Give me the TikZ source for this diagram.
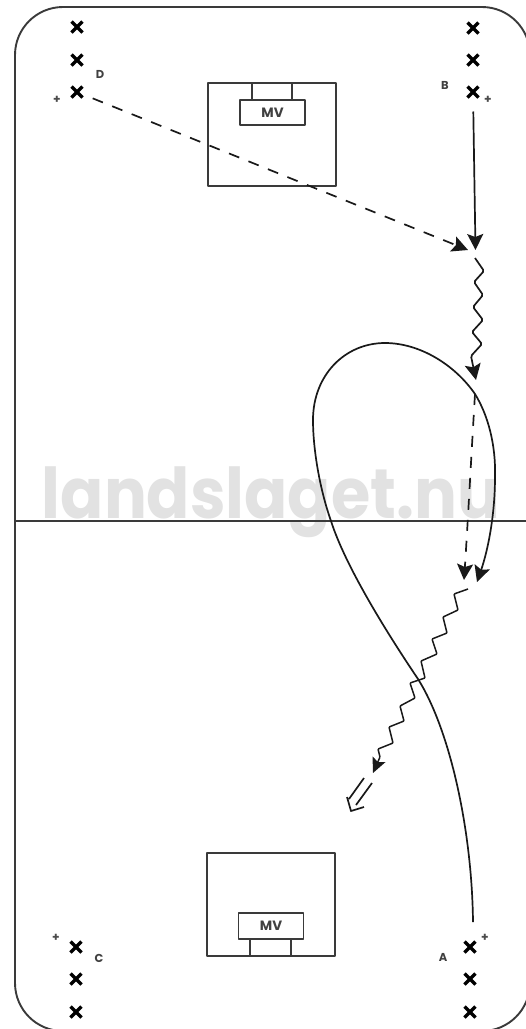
\documentclass[tikz,border=0pt]{standalone}
\usepackage{fontspec}
\setmainfont{Poppins}
\usetikzlibrary{shapes.misc,arrows.meta}
\definecolor{linegray}{HTML}{3A3A3A}
\definecolor{water}{HTML}{E2E2E2}
\tikzset{
  x=1pt,y=-1pt,
  player/.style={cross out,draw=black,line width=3.3pt,minimum size=11pt,inner sep=0pt,outer sep=0pt},
  lbl/.style={font=\bfseries\fontsize{11.5}{11.5}\selectfont,text=black!75,inner sep=0pt},
  plus/.style={font=\bfseries\fontsize{12}{12}\selectfont,text=black!70,inner sep=0pt},
  frame/.style={draw=linegray,line width=1.9pt},
  goalline/.style={draw=linegray,line width=1.7pt,line join=round},
  run/.style={draw=black!90,line width=1.7pt,line join=round},
  tip/.style={-{Stealth[length=16pt,width=16pt,inset=3pt]}},
  tipsmall/.style={-{Stealth[length=15pt,width=14pt,inset=3pt]}},
  dashrun/.style={dash pattern=on 11pt off 10pt},
}
\begin{document}
\begin{tikzpicture}
\useasboundingbox (0,0) rectangle (526,1029);
\clip (0,0) rectangle (526,1029);
% watermark
\node[font=\bfseries\fontsize{70}{70}\selectfont,text=water,anchor=base,inner sep=0pt,xscale=0.91] (wm) at (271,518) {landslaget.nu};
% court
\draw[frame,rounded corners=48pt] (15,7) rectangle (530,1031);
\coordinate (midL) at (15,521);
\coordinate (midR) at (526,521);
\draw[frame] (midL) -- (midR);
% top goal
\node[goalline,draw,minimum width=128pt,minimum height=103pt,inner sep=0pt,outer sep=0pt] (goalT) at (272,134.5) {};
\node[goalline,draw,minimum width=65pt,minimum height=25pt,inner sep=0pt,outer sep=0pt,font=\bfseries\fontsize{13.5}{13.5}\selectfont,text=black!75] (mvT) at (272.5,112.5) {MV};
\draw[goalline] (252,83) -- (252,100) (292,83) -- (292,100);
% bottom goal
\node[goalline,draw,minimum width=128pt,minimum height=103pt,inner sep=0pt,outer sep=0pt] (goalB) at (271,904.5) {};
\node[goalline,draw,minimum width=65pt,minimum height=26pt,inner sep=0pt,outer sep=0pt,font=\bfseries\fontsize{13.5}{13.5}\selectfont,text=black!75] (mvB) at (271,926) {MV};
\draw[goalline] (250,939) -- (250,956) (291,939) -- (291,956);
% players
\node[player] (D1) at (77,27) {};
\node[player] (D2) at (77,60) {};
\node[player] (D3) at (77,92) {};
\node[player] (B1) at (473,28) {};
\node[player] (B2) at (473,60) {};
\node[player] (B3) at (473,92) {};
\node[player] (C1) at (76,947) {};
\node[player] (C2) at (76,979) {};
\node[player] (C3) at (76,1012) {};
\node[player] (A1) at (470,947) {};
\node[player] (A2) at (470,979) {};
\node[player] (A3) at (470,1012) {};
% labels
\node[lbl] (lD) at (100,74) {D};
\node[lbl] (lB) at (445,85) {B};
\node[lbl] (lC) at (99,958) {C};
\node[lbl] (lA) at (443,957) {A};
\node[plus] (pD) at (57,100) {+};
\node[plus] (pB) at (488,100) {+};
\node[plus] (pC) at (56,938) {+};
\node[plus] (pA) at (485,938) {+};
% connectors
\coordinate (t1) at (468,250);
\coordinate (t2) at (475.5,250);
\coordinate (z1s) at (475,258);
\coordinate (t3) at (476,380);
\coordinate (d2s) at (475,394);
\coordinate (t4) at (464,580);
\coordinate (t5) at (477,582);
\coordinate (z2s) at (468,589);
\coordinate (t6) at (373,773);
\coordinate (astart) at (473,922);
\draw[run,dashrun,tip,shorten <=11pt] (D3) -- (t1);
\draw[run,tip,shorten <=14pt] (B3) -- (t2);
\draw[run,rounded corners=1.5pt,tip] (z1s) -- (484,271) -- (474,282) -- (483,295) -- (473,307) -- (483,320) -- (472,332) -- (482,344) -- (471,356) -- (t3);
\draw[run,dashrun,tip] (d2s) .. controls (471,460) and (468,520) .. (t4);
\draw[run,tip] (astart) .. controls (472,830) and (450,730) .. (418,679)
  .. controls (385,630) and (345,565) .. (331,521)
  .. controls (320,490) and (313,450) .. (313,420)
  .. controls (313,375) and (345,343) .. (385,343)
  .. controls (420,343) and (455,365) .. (475,394)
  .. controls (488,415) and (496,445) .. (495,477)
  .. controls (495,515) and (488,550) .. (t5);
\draw[run,line width=1.5pt,rounded corners=0.8pt,tipsmall] (z2s) -- (454,594) -- (458,610) -- (443,617) -- (447,633) -- (432,639) -- (437,654) -- (421,661) -- (425,678) -- (410,683) -- (415,698) -- (400,706) -- (404,721) -- (389,727) -- (393,743) -- (378,749) -- (380,757) -- (t6);
% double arrow
\coordinate (da1) at (364,778);
\coordinate (da2) at (372,783);
\coordinate (da3) at (349,799);
\coordinate (da4) at (356,805);
\coordinate (dh1) at (347,797);
\coordinate (dh2) at (351,811);
\coordinate (dh3) at (364,807);
\draw[run] (da1) -- (da3) (da2) -- (da4) (dh1) -- (dh2) -- (dh3);
\end{tikzpicture}
\end{document}
